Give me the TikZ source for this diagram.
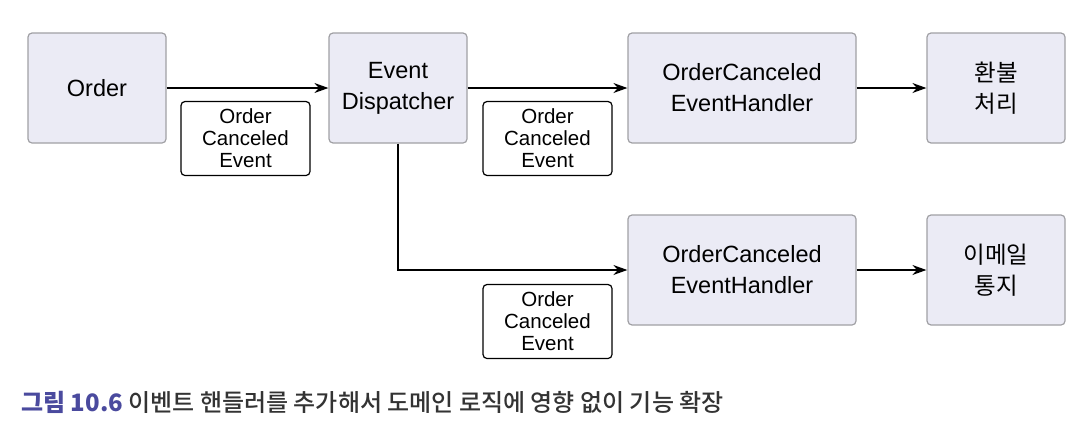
\documentclass[tikz,border=0pt]{standalone}
\usepackage{fontspec}
\setmainfont{Liberation Sans}
\newfontfamily\kr{Noto Sans CJK KR}
\newfontfamily\krmed{Noto Sans CJK KR Medium}
\usetikzlibrary{arrows.meta}
\definecolor{boxfill}{HTML}{EBEBF5}
\definecolor{boxdraw}{HTML}{A0A0A4}
\definecolor{capblue}{HTML}{4A4A9E}
\definecolor{capgray}{HTML}{333333}
\begin{document}
\begin{tikzpicture}[x=1pt,y=-1pt,
  comp/.style={draw=boxdraw, fill=boxfill, line width=1.2pt, rounded corners=4pt,
    minimum height=110pt, inner sep=0pt, align=center, font=\fontsize{23.5}{31}\selectfont},
  evlabel/.style={draw=black, fill=white, line width=1.2pt, rounded corners=4pt,
    minimum width=129pt, minimum height=74pt, inner sep=0pt, align=center,
    font=\fontsize{20.5}{22}\selectfont},
  conn/.style={line width=1.5pt, -{Stealth[length=14pt,width=10pt]}}]
\useasboundingbox (0,0) rectangle (1082,426);
\node[comp, minimum width=138pt] (order) at (97,88) {Order};
\node[comp, minimum width=138pt] (disp) at (398,88) {Event\\Dispatcher};
\node[comp, minimum width=228pt] (h1) at (742,88) {OrderCanceled\\EventHandler};
\node[comp, minimum width=138pt] (refund) at (996,88) {\kr 환불\\\kr 처리};
\node[comp, minimum width=228pt] (h2) at (742,270) {OrderCanceled\\EventHandler};
\node[comp, minimum width=138pt] (mail) at (996,270) {\kr 이메일\\\kr 통지};
\node[evlabel] (l1) at (245.5,138.5) {Order\\Canceled\\Event};
\node[evlabel] (l2) at (547.5,138.5) {Order\\Canceled\\Event};
\node[evlabel] (l3) at (547.5,321.5) {Order\\Canceled\\Event};
\draw[conn] (order) -- (disp);
\draw[conn] (disp) -- (h1);
\draw[conn] (h1) -- (refund);
\draw[conn] (h2) -- (mail);
\draw[conn] (disp.south) |- (h2.west);
\node[anchor=base west, inner sep=0pt, font=\kr\fontsize{24}{28}\selectfont] (cap) at (21,411)
  {\textcolor{capblue}{\bfseries 그림 10.6} \textcolor{capgray}{\krmed 이벤트 핸들러를 추가해서 도메인 로직에 영향 없이 기능 확장}};
\end{tikzpicture}
\end{document}
